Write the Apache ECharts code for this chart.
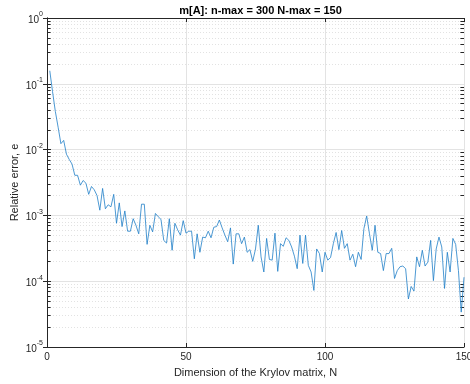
<!DOCTYPE html>
<html>
<head>
<meta charset="utf-8">
<script src="https://cdn.jsdelivr.net/npm/echarts@6/dist/echarts.min.js"></script>
<style>html,body{margin:0;padding:0;background:#fff}#c{width:470px;height:384px}</style>
</head>
<body>
<div id="c"></div>
<script>
// Relative error e for Krylov dimension N = 1..150
var errors = [
  0.158, 0.0759, 0.0380, 0.0219, 0.0123, 0.0138, 0.00851, 0.00708, 0.00603, 0.00407,
  0.00407, 0.00288, 0.00339, 0.00309, 0.00209, 0.00275, 0.00245, 0.00200, 0.00120, 0.00257,
  0.00126, 0.00145, 0.00135, 0.00209, 0.000759, 0.00155, 0.000676, 0.00117, 0.000575, 0.000575,
  0.000891, 0.000708, 0.000525, 0.00148, 0.00148, 0.000363, 0.000708, 0.000562, 0.00107, 0.000955,
  0.000871, 0.000417, 0.000380, 0.000891, 0.000295, 0.000759, 0.000603, 0.000501, 0.000832, 0.000537,
  0.000575, 0.000575, 0.000219, 0.000525, 0.000275, 0.000468, 0.000457, 0.000575, 0.000457, 0.000661,
  0.000676, 0.000851, 0.000646, 0.000501, 0.000398, 0.000646, 0.000182, 0.000525, 0.000525, 0.000372,
  0.000468, 0.000275, 0.000302, 0.000200, 0.000309, 0.000708, 0.000234, 0.000138, 0.000447, 0.000214,
  0.000209, 0.000537, 0.000141, 0.000372, 0.000339, 0.000457, 0.000417, 0.000331, 0.000240, 0.000155,
  0.000501, 0.000186, 0.000501, 0.000174, 0.000138, 0.0000724, 0.000309, 0.000263, 0.000138, 0.000275,
  0.000209, 0.000229, 0.000372, 0.000550, 0.000302, 0.000589, 0.000316, 0.000372, 0.000209, 0.000257,
  0.000166, 0.000275, 0.000214, 0.000631, 0.000977, 0.000525, 0.000295, 0.000708, 0.000275, 0.000263,
  0.000145, 0.000263, 0.000263, 0.000316, 0.000110, 0.000145, 0.000166, 0.000170, 0.000155, 0.0000537,
  0.0000832, 0.0000708, 0.000234, 0.000166, 0.000295, 0.000170, 0.000195, 0.000417, 0.000102, 0.000309,
  0.000468, 0.000331, 0.0000776, 0.000275, 0.000138, 0.000447, 0.000363, 0.000145, 0.0000339, 0.000115
];
var xTicks = [0, 50, 100, 150];
var yDecades = [1e-5, 1e-4, 1e-3, 1e-2, 1e-1, 1];
var minorMultipliers = [2, 3, 4, 5, 6, 7, 8, 9];
var titleText = 'm[A]: n-max = 300 N-max = 150';
var xName = 'Dimension of the Krylov matrix, N';
var yName = 'Relative error, e';

var xMin = xTicks[0], xMax = xTicks[xTicks.length - 1];
var seriesData = errors.map(function (v, i) { return [i + 1, v]; });
var minorVals = [];
for (var d = 0; d < yDecades.length - 1; d++) {
  minorMultipliers.forEach(function (m) { minorVals.push(yDecades[d] * m); });
}
var minorGrid = minorVals.map(function (v) { return { coords: [[xMin, v], [xMax, v]] }; });
var tickLen = 1.3; // minor tick length in x data units (~4px)
var minorTicks = [];
minorVals.forEach(function (v) {
  minorTicks.push({ coords: [[xMin, v], [xMin + tickLen, v]] });
  minorTicks.push({ coords: [[xMax - tickLen, v], [xMax, v]] });
});

var font = "'Liberation Sans', Arial, Helvetica, sans-serif";
var axisCol = '#262626';
var chart = echarts.init(document.getElementById('c'), null, { renderer: 'canvas' });
chart.setOption({
  animation: false,
  backgroundColor: '#ffffff',
  title: {
    text: titleText, left: 255.5, top: 0, textAlign: 'center',
    textStyle: { fontFamily: font, fontSize: 11, fontWeight: 'bold', color: '#000' }
  },
  grid: { left: 47, right: 6, top: 18, bottom: 37, containLabel: false, outerBoundsMode: 'none' },
  xAxis: [{
    type: 'value', min: xMin, max: xMax, interval: 50,
    name: xName, nameLocation: 'middle', nameGap: 20, nameMoveOverlap: false,
    nameTextStyle: { fontFamily: font, fontSize: 11, color: axisCol },
    axisLine: { lineStyle: { color: axisCol, width: 1 } },
    axisTick: { inside: true, length: 4, lineStyle: { color: axisCol } },
    axisLabel: { fontFamily: font, fontSize: 10, color: axisCol, margin: 5, hideOverlap: false },
    splitLine: { show: true, lineStyle: { color: '#e3e3e3', width: 1 } }
  }, {
    type: 'value', position: 'top', min: xMin, max: xMax, interval: 50,
    axisLine: { show: true, lineStyle: { color: axisCol, width: 1 } },
    axisTick: { show: true, inside: true, length: 4, lineStyle: { color: axisCol } },
    axisLabel: { show: false }, splitLine: { show: false }
  }],
  yAxis: [{
    type: 'log', logBase: 10, min: yDecades[0], max: yDecades[yDecades.length - 1],
    name: yName, nameLocation: 'middle', nameGap: 27, nameRotate: 90, nameMoveOverlap: false,
    nameTextStyle: { fontFamily: font, fontSize: 11, color: axisCol },
    axisLine: { show: true, lineStyle: { color: axisCol, width: 1 } },
    axisTick: { show: true, inside: true, length: 4, lineStyle: { color: axisCol } },
    axisLabel: {
      fontFamily: font, color: axisCol, margin: 4,
      formatter: function (v) { return '{b|10}{s|' + Math.round(Math.log10(v)) + '}'; },
      rich: {
        b: { fontFamily: font, fontSize: 10, color: axisCol, lineHeight: 14, verticalAlign: 'bottom' },
        s: { fontFamily: font, fontSize: 7, color: axisCol, lineHeight: 14, verticalAlign: 'top', padding: [0, 0, 6, 0] }
      }
    },
    splitLine: { show: true, lineStyle: { color: '#e3e3e3', width: 1 } }
  }, {
    type: 'log', logBase: 10, position: 'right', min: yDecades[0], max: yDecades[yDecades.length - 1],
    axisLine: { show: true, lineStyle: { color: axisCol, width: 1 } },
    axisTick: { show: true, inside: true, length: 4, lineStyle: { color: axisCol } },
    axisLabel: { show: false }, splitLine: { show: false }
  }],
  series: [{
    type: 'lines', coordinateSystem: 'cartesian2d', xAxisIndex: 0, yAxisIndex: 0,
    silent: true, z: 1, data: minorGrid,
    lineStyle: { color: '#e2e2e2', type: [1, 2], width: 1, opacity: 1 }
  }, {
    type: 'lines', coordinateSystem: 'cartesian2d', xAxisIndex: 0, yAxisIndex: 0,
    silent: true, z: 3, data: minorTicks,
    lineStyle: { color: axisCol, width: 1, opacity: 1 }
  }, {
    type: 'line', data: seriesData, xAxisIndex: 0, yAxisIndex: 0,
    showSymbol: false, symbol: 'none',
    lineStyle: { color: '#1f7fc8', width: 0.8 },
    z: 5
  }]
});
</script>
</body>
</html>
